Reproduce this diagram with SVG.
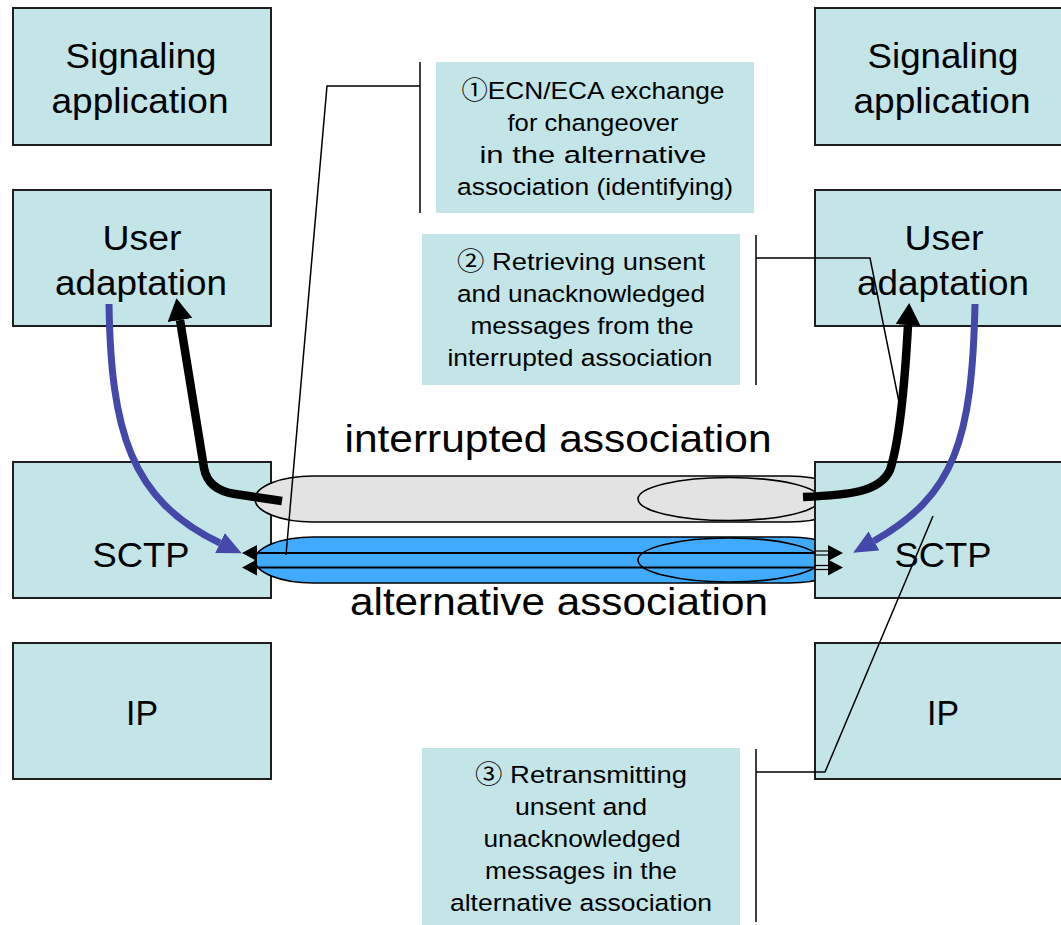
<svg xmlns="http://www.w3.org/2000/svg" width="1061" height="925" viewBox="0 0 1061 925">
  <style>
    .box { fill: #c4e5e8; stroke: #1e1e1e; stroke-width: 2; }
    .note-box { fill: #c4e5e8; stroke: none; }
    text { font-family: "Liberation Sans", "Noto Sans CJK JP", sans-serif; fill: #000; text-anchor: middle; }
    .lbl { font-size: 35px; }
    .assoc { font-size: 38px; }
    .note { font-size: 24.5px; }
    .lead { fill: none; stroke: #000; stroke-width: 1.5; }
    .shaft { stroke: #000; stroke-width: 2; }
    .shaft-open { fill: none; stroke: #000; stroke-width: 1.2; }
    .tip { fill: #000; }
    .flow-up { fill: none; stroke: #000; stroke-width: 8.5; marker-end: url(#headBlack); }
    .flow-down { fill: none; stroke: #4448a8; stroke-width: 7; marker-end: url(#headBlue); }
  </style>
  <defs>
    <marker id="headBlack" markerUnits="userSpaceOnUse" markerWidth="24" markerHeight="26" refX="0" refY="12.5" orient="auto">
      <path d="M0,0 L22,12.5 L0,25 z" fill="#000"/>
    </marker>
    <marker id="headBlue" markerUnits="userSpaceOnUse" markerWidth="26" markerHeight="24" refX="0" refY="11" orient="auto">
      <path d="M0,0 L24,11 L0,22 z" fill="#4448a8"/>
    </marker>
  </defs>

  <!-- left protocol stack -->
  <g id="left-signaling">
    <rect class="box" x="13" y="8" width="258" height="137"/>
    <text class="lbl" x="141" y="68" textLength="151" lengthAdjust="spacingAndGlyphs">Signaling</text>
    <text class="lbl" x="140" y="113" textLength="177" lengthAdjust="spacingAndGlyphs">application</text>
  </g>
  <g id="left-user-adaptation">
    <rect class="box" x="13" y="190" width="258" height="136"/>
    <text class="lbl" x="142" y="250" textLength="79" lengthAdjust="spacingAndGlyphs">User</text>
    <text class="lbl" x="141" y="295" textLength="172" lengthAdjust="spacingAndGlyphs">adaptation</text>
  </g>
  <g id="left-sctp">
    <rect class="box" x="13" y="462" width="258" height="136"/>
    <text class="lbl" x="141" y="567" textLength="97" lengthAdjust="spacingAndGlyphs">SCTP</text>
  </g>
  <g id="left-ip">
    <rect class="box" x="13" y="643" width="258" height="136"/>
    <text class="lbl" x="142" y="725" textLength="32" lengthAdjust="spacingAndGlyphs">IP</text>
  </g>

  <!-- associations between the two SCTP endpoints (right ends tuck under the right SCTP box) -->
  <g id="interrupted-association">
    <rect x="255" y="476" width="592" height="46" rx="58" ry="23" fill="#e3e3e3" stroke="#000" stroke-width="1.6"/>
    <ellipse cx="729" cy="499" rx="91" ry="21.5" fill="none" stroke="#000" stroke-width="1.6"/>
    <text class="assoc" x="558" y="452" textLength="427" lengthAdjust="spacingAndGlyphs">interrupted association</text>
  </g>
  <g id="alternative-association">
    <rect x="255" y="537" width="592" height="46" rx="58" ry="23" fill="#40aaff" stroke="#000" stroke-width="1.6"/>
    <ellipse cx="729" cy="560" rx="91" ry="22" fill="none" stroke="#000" stroke-width="1.6"/>
    <text class="assoc" x="559" y="615" textLength="418" lengthAdjust="spacingAndGlyphs">alternative association</text>
  </g>

  <!-- right protocol stack -->
  <g id="right-signaling">
    <rect class="box" x="815" y="8" width="258" height="137"/>
    <text class="lbl" x="943" y="68" textLength="151" lengthAdjust="spacingAndGlyphs">Signaling</text>
    <text class="lbl" x="942" y="113" textLength="177" lengthAdjust="spacingAndGlyphs">application</text>
  </g>
  <g id="right-user-adaptation">
    <rect class="box" x="815" y="190" width="258" height="136"/>
    <text class="lbl" x="944" y="250" textLength="79" lengthAdjust="spacingAndGlyphs">User</text>
    <text class="lbl" x="943" y="295" textLength="172" lengthAdjust="spacingAndGlyphs">adaptation</text>
  </g>
  <g id="right-sctp">
    <rect class="box" x="815" y="462" width="258" height="136"/>
    <text class="lbl" x="943" y="567" textLength="97" lengthAdjust="spacingAndGlyphs">SCTP</text>
  </g>
  <g id="right-ip">
    <rect class="box" x="815" y="643" width="258" height="136"/>
    <text class="lbl" x="943" y="725" textLength="32" lengthAdjust="spacingAndGlyphs">IP</text>
  </g>

  <!-- step notes -->
  <g id="note-1">
    <rect class="note-box" x="436" y="62" width="318" height="151"/>
    <text class="note" x="593" y="99" textLength="263" lengthAdjust="spacingAndGlyphs">①ECN/ECA exchange</text>
    <text class="note" x="593" y="131" textLength="171" lengthAdjust="spacingAndGlyphs">for changeover</text>
    <text class="note" x="593" y="163" textLength="227" lengthAdjust="spacingAndGlyphs">in the alternative</text>
    <text class="note" x="595" y="195" textLength="276" lengthAdjust="spacingAndGlyphs">association (identifying)</text>
  </g>
  <g id="note-2">
    <rect class="note-box" x="422" y="234" width="318" height="151"/>
    <text class="note" x="581" y="270" textLength="248" lengthAdjust="spacingAndGlyphs">② Retrieving unsent</text>
    <text class="note" x="581" y="302" textLength="248" lengthAdjust="spacingAndGlyphs">and unacknowledged</text>
    <text class="note" x="582" y="334" textLength="223" lengthAdjust="spacingAndGlyphs">messages from the</text>
    <text class="note" x="580" y="366" textLength="265" lengthAdjust="spacingAndGlyphs">interrupted association</text>
  </g>
  <g id="note-3">
    <rect class="note-box" x="422" y="748" width="318" height="180"/>
    <text class="note" x="581" y="783" textLength="212" lengthAdjust="spacingAndGlyphs">③ Retransmitting</text>
    <text class="note" x="581" y="815" textLength="132" lengthAdjust="spacingAndGlyphs">unsent and</text>
    <text class="note" x="582" y="847" textLength="197" lengthAdjust="spacingAndGlyphs">unacknowledged</text>
    <text class="note" x="581" y="879" textLength="192" lengthAdjust="spacingAndGlyphs">messages in the</text>
    <text class="note" x="581" y="911" textLength="262" lengthAdjust="spacingAndGlyphs">alternative association</text>
  </g>

  <!-- connectors: message arrows, data flows, note leaders -->
  <g id="connectors">
    <!-- two-headed message arrows through the alternative association -->
    <line class="shaft" x1="256" y1="553" x2="815" y2="553"/>
    <rect class="shaft-open" x="815" y="551" width="14" height="4"/>
    <polygon class="tip" points="242,553 257,545 257,561"/>
    <polygon class="tip" points="843,553 828,545 828,561"/>
    <line class="shaft" x1="256" y1="567.5" x2="815" y2="567.5"/>
    <rect class="shaft-open" x="815" y="565.5" width="14" height="4"/>
    <polygon class="tip" points="242,567.5 257,559.5 257,575.5"/>
    <polygon class="tip" points="843,567.5 828,559.5 828,575.5"/>

    <path class="flow-up" d="M282,501 L235,494 Q208,490 204,468 L180,320"/>
    <path class="flow-up" d="M803,497 C850,495 880,492 890,470 C900,440 905,380 908,325"/>

    <path class="flow-down" d="M109,304 C111,430 130,500 220,543"/>
    <path class="flow-down" d="M975,304 C972,440 955,495 874,541"/>

    <line class="lead" x1="420" y1="62" x2="420" y2="213"/>
    <polyline class="lead" points="420,86 327,86 286,555"/>

    <line class="lead" x1="756" y1="235" x2="756" y2="385"/>
    <polyline class="lead" points="756,258 870,258 901,412"/>

    <line class="lead" x1="756" y1="749" x2="756" y2="922"/>
    <polyline class="lead" points="756,772 825,772 933,516"/>
  </g>
</svg>
